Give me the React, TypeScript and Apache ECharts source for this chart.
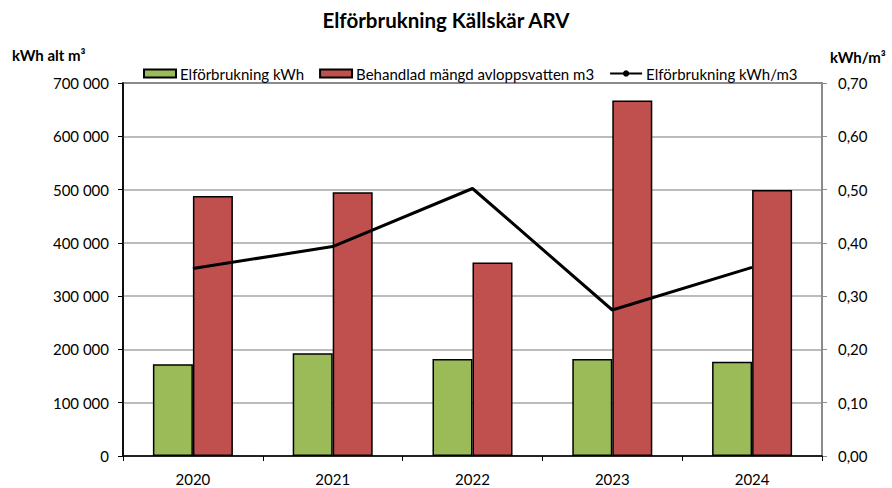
import React, { useEffect, useRef } from "react";
import * as echarts from "echarts";

const years = ["2020", "2021", "2022", "2023", "2024"];
const elKwh = [172000, 193000, 182000, 182000, 177000];
const vattenM3 = [488000, 495000, 363000, 667000, 499000];
const kwhPerM3 = [0.352, 0.393, 0.502, 0.274, 0.354];

const FONT = "Lato, 'Open Sans', sans-serif";

export default function App() {
  const ref = useRef<HTMLDivElement>(null);
  useEffect(() => {
    if (!ref.current) return;
    const chart = echarts.init(ref.current, undefined, { renderer: "svg" });
    chart.setOption({
      animation: false,
      textStyle: { fontFamily: FONT },
      title: {
        text: "Elförbrukning Källskär ARV",
        left: "center",
        top: 4,
        textStyle: { fontFamily: FONT, fontSize: 20.5, fontWeight: "bold", color: "#000" },
      },
      graphic: [
        {
          type: "text",
          left: 12,
          top: 47,
          style: { text: "kWh alt m³", fontFamily: FONT, fontSize: 15, fontWeight: "bold", fill: "#000" },
        },
        {
          type: "text",
          left: 830,
          top: 49,
          style: { text: "kWh/m³", fontFamily: FONT, fontSize: 15, fontWeight: "bold", fill: "#000" },
        },
      ],
      legend: {
        top: 66,
        left: 143,
        padding: 0,
        itemGap: 15,
        itemWidth: 32,
        itemHeight: 8,
        textStyle: { fontFamily: FONT, fontSize: 15, color: "#000", padding: [0, 0, 0, -1] },
        data: [
          { name: "Elförbrukning kWh", icon: "rect" },
          { name: "Behandlad mängd avloppsvatten m3", icon: "rect" },
          { name: "Elförbrukning kWh/m3" },
        ],
      },
      grid: {
        left: 123,
        right: 70,
        top: 83,
        bottom: 32,
        show: true,
        borderColor: "#000",
        borderWidth: 1.5,
      },
      xAxis: {
        type: "category",
        data: years,
        boundaryGap: true,
        axisLine: { lineStyle: { color: "#000", width: 1.5 } },
        axisTick: { show: true, alignWithLabel: false, length: 5, lineStyle: { color: "#000" } },
        axisLabel: { color: "#000", fontSize: 15, fontFamily: FONT, margin: 15 },
      },
      yAxis: [
        {
          type: "value",
          min: 0,
          max: 700000,
          interval: 100000,
          axisLine: { show: true, lineStyle: { color: "#000", width: 1.5 } },
          axisTick: { show: true, length: 5, inside: false, lineStyle: { color: "#000" } },
          axisLabel: {
            color: "#000",
            fontSize: 15,
            fontFamily: FONT,
            margin: 14,
            formatter: (v: number) => String(v).replace(/\B(?=(\d{3})+(?!\d))/g, " "),
          },
          splitLine: { show: true, lineStyle: { color: "#a6a6a6", width: 1.5 } },
        },
        {
          type: "value",
          min: 0,
          max: 0.7,
          interval: 0.1,
          position: "right",
          axisLine: { show: true, lineStyle: { color: "#8c8c8c", width: 2 } },
          axisTick: { show: true, length: 5, lineStyle: { color: "#8c8c8c" } },
          axisLabel: {
            color: "#000",
            fontSize: 15,
            fontFamily: FONT,
            margin: 16,
            formatter: (v: number) => v.toFixed(2).replace(".", ","),
          },
          splitLine: { show: false },
        },
      ],
      series: [
        {
          name: "Elförbrukning kWh",
          type: "bar",
          data: elKwh,
          barWidth: 40,
          barGap: "0%",
          itemStyle: { color: "#9BBB59", borderColor: "#000", borderWidth: 1.5 },
        },
        {
          name: "Behandlad mängd avloppsvatten m3",
          type: "bar",
          data: vattenM3,
          barWidth: 40,
          itemStyle: { color: "#C0504D", borderColor: "#000", borderWidth: 1.5 },
        },
        {
          name: "Elförbrukning kWh/m3",
          type: "line",
          yAxisIndex: 1,
          data: kwhPerM3,
          symbol: "none",
          lineStyle: { color: "#000", width: 3 },
          itemStyle: { color: "#000" },
          z: 5,
        },
      ],
    });
    return () => chart.dispose();
  }, []);
  return (
    <div
      ref={ref}
      style={{ position: "absolute", left: 0, top: 0, width: 892, height: 488 }}
    />
  );
}
